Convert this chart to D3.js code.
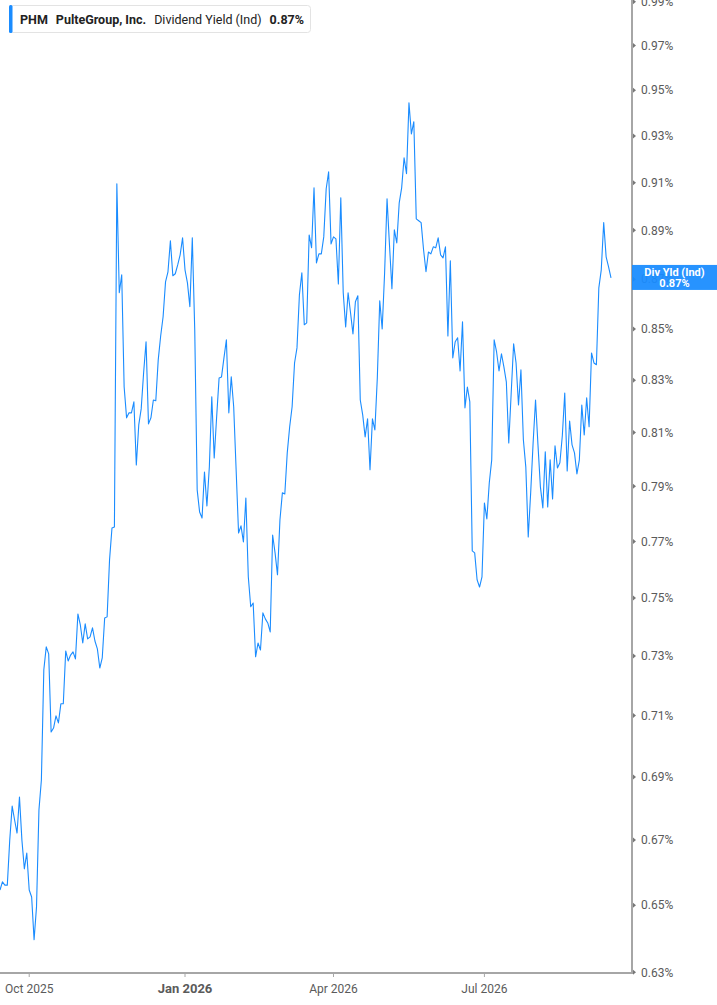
<!DOCTYPE html>
<html>
<head>
<meta charset="utf-8">
<script src="https://cdn.jsdelivr.net/npm/d3@7"></script>
<style>
  body { margin: 0; background: #fff; }
  svg { display: block; font-family: Roboto, "Noto Sans", sans-serif; }
</style>
</head>
<body>
<div id="chart"></div>
<script>
// daily dividend yield (%), one per trading day, Sep 15 2025 .. Sep 15 2026
const yieldValues = [
  0.6546, 0.6571, 0.6561, 0.6561, 0.6700, 0.6807, 0.6763, 0.6722, 0.6836, 0.6700,
  0.6611, 0.6660, 0.6546, 0.6525, 0.6396, 0.6495, 0.6795, 0.6890, 0.7253, 0.7331,
  0.7307, 0.7046, 0.7059, 0.7099, 0.7076, 0.7139, 0.7139, 0.7317, 0.7283, 0.7303,
  0.7314, 0.7290, 0.7444, 0.7406, 0.7344, 0.7410, 0.7358, 0.7365, 0.7396, 0.7351,
  0.7324, 0.7259, 0.7293, 0.7430, 0.7434, 0.7634, 0.7748, 0.7752, 0.9095, 0.8645,
  0.8718, 0.8274, 0.8156, 0.8175, 0.8175, 0.8217, 0.7979, 0.8129, 0.8190, 0.8329,
  0.8450, 0.8133, 0.8156, 0.8224, 0.8221, 0.8379, 0.8473, 0.8549, 0.8689, 0.8730,
  0.8857, 0.8714, 0.8722, 0.8758, 0.8799, 0.8869, 0.8738, 0.8685, 0.8589, 0.8869,
  0.8497, 0.7887, 0.7806, 0.7784, 0.7953, 0.7828, 0.7972, 0.8236, 0.8005, 0.8160,
  0.8309, 0.8313, 0.8387, 0.8458, 0.8175, 0.8313, 0.8198, 0.7961, 0.7730, 0.7756,
  0.7698, 0.7857, 0.7574, 0.7469, 0.7482, 0.7297, 0.7344, 0.7320, 0.7448, 0.7427,
  0.7413, 0.7382, 0.7723, 0.7659, 0.7581, 0.7777, 0.7876, 0.7872, 0.8024, 0.8122,
  0.8198, 0.8367, 0.8426, 0.8637, 0.8726, 0.8517, 0.8525, 0.8881, 0.8828, 0.9078,
  0.8766, 0.8803, 0.8803, 0.8873, 0.9074, 0.9146, 0.8844, 0.8873, 0.8865, 0.8681,
  0.9036, 0.8645, 0.8509, 0.8645, 0.8565, 0.8481, 0.8609, 0.8633, 0.8224, 0.8167,
  0.8084, 0.8152, 0.7961, 0.8152, 0.8110, 0.8309, 0.8613, 0.8501, 0.8726, 0.9032,
  0.8840, 0.8661, 0.8902, 0.8848, 0.9015, 0.9078, 0.9206, 0.9138, 0.9445, 0.9309,
  0.9362, 0.8948, 0.8940, 0.8932, 0.8820, 0.8730, 0.8811, 0.8803, 0.8832, 0.8828,
  0.8869, 0.8799, 0.8787, 0.8832, 0.8473, 0.8775, 0.8387, 0.8450, 0.8466, 0.8336,
  0.8529, 0.8194, 0.8274, 0.8217, 0.7666, 0.7659, 0.7563, 0.7538, 0.7574, 0.7839,
  0.7781, 0.7913, 0.7998, 0.8458, 0.8410, 0.8336, 0.8403, 0.8352, 0.8294, 0.8061,
  0.8251, 0.8442, 0.8367, 0.8205, 0.8340, 0.8073, 0.7972, 0.7716, 0.7876, 0.8061,
  0.8224, 0.8054, 0.7898, 0.7821, 0.8028, 0.7824, 0.7998, 0.7854, 0.8050, 0.7968,
  0.7987, 0.8088, 0.8251, 0.7957, 0.8144, 0.8054, 0.8024, 0.7946, 0.7998, 0.8205,
  0.8091, 0.8232, 0.8122, 0.8406, 0.8367, 0.8360, 0.8665, 0.8738, 0.8932, 0.8791,
  0.8750, 0.8705
];

// NYSE closures in the range
const holidays = ["2025-11-27", "2025-12-25", "2026-01-01", "2026-01-19", "2026-02-16",
  "2026-04-03", "2026-05-25", "2026-06-19", "2026-07-03", "2026-09-07"];

const yTicks = [0.63, 0.65, 0.67, 0.69, 0.71, 0.73, 0.75, 0.77, 0.79, 0.81,
  0.83, 0.85, 0.87, 0.89, 0.91, 0.93, 0.95, 0.97, 0.99];
const xTickMonths = ["2025-10", "2026-01", "2026-04", "2026-07"];
const xTickLabels = ["Oct 2025", "Jan 2026", "Apr 2026", "Jul 2026"];

const ticker = "PHM";
const company = "PulteGroup, Inc.";
const metric = "Dividend Yield (Ind)";
const shortMetric = "Div Yld (Ind)";

const width = 717, height = 1005;
const axisX = 632, axisY = 973;
const blue = "#1a8cff";
const parse = d3.utcParse("%Y-%m-%d");
const fmtDay = d3.utcFormat("%Y-%m-%d");
const fmtMonth = d3.utcFormat("%Y-%m");

// trading days
const closed = new Set(holidays);
const days = d3.utcDay.range(parse("2025-09-15"), parse("2026-09-16"))
  .filter(d => d.getUTCDay() > 0 && d.getUTCDay() < 6 && !closed.has(fmtDay(d)));
const data = yieldValues.map((v, i) => ({ i, date: days[i], value: v }));

// session-based x axis: one slot per trading day
const x = d3.scaleLinear()
  .domain([0, data.length - 1])
  .range([0, 611]);
const y = d3.scaleLog()
  .domain([0.63, 0.99])
  .range([972.3, 1.7]);

// first session of each labelled month
const xTicks = xTickMonths.map((m, k) => ({
  i: data.findIndex(d => fmtMonth(d.date) === m),
  label: xTickLabels[k],
  bold: m.endsWith("-01")
}));

const svg = d3.select("#chart").append("svg")
  .attr("width", width).attr("height", height);

svg.append("clipPath").attr("id", "plot")
  .append("rect").attr("x", 0).attr("y", 0).attr("width", axisX).attr("height", axisY);

const line = d3.line().x(d => x(d.i)).y(d => y(d.value));
svg.append("path")
  .datum(data)
  .attr("clip-path", "url(#plot)")
  .attr("fill", "none")
  .attr("stroke", blue)
  .attr("stroke-width", 1.1)
  .attr("stroke-linejoin", "round")
  .attr("d", line);

// y axis on the right
const yAxis = svg.append("g").attr("transform", `translate(${axisX},0)`);
yAxis.append("line").attr("y1", 0).attr("y2", axisY)
  .attr("stroke", "#a6a6a6").attr("stroke-width", 2);
const yt = yAxis.selectAll("g.tick").data(yTicks).join("g")
  .attr("class", "tick")
  .attr("transform", d => `translate(0,${y(d)})`);
yt.append("path").attr("d", "M1,-2.5L4,0L1,2.5Z").attr("fill", "#777");
yt.append("text")
  .attr("x", 9).attr("dy", "0.35em")
  .attr("font-size", 12).attr("fill", "#5a5a5a")
  .text(d => d3.format(".2f")(d) + "%");

// x axis
const xAxis = svg.append("g");
xAxis.append("line").attr("x1", 0).attr("x2", axisX + 1)
  .attr("y1", axisY).attr("y2", axisY)
  .attr("stroke", "#a6a6a6").attr("stroke-width", 2);
const xt = xAxis.selectAll("g.tick").data(xTicks).join("g")
  .attr("class", "tick")
  .attr("transform", d => `translate(${x(d.i)},${axisY})`);
xt.append("line").attr("y1", 0).attr("y2", 4).attr("stroke", "#a6a6a6");
xt.append("text")
  .attr("y", 19.5).attr("text-anchor", "middle")
  .attr("fill", "#5a5a5a")
  .attr("font-weight", d => d.bold ? 700 : 400)
  .attr("font-size", d => d.bold ? 13 : 12)
  .text(d => d.label);

// last value tag
const last = data[data.length - 1];
const tag = svg.append("g").attr("transform", `translate(${axisX},${y(last.value)})`);
tag.append("rect").attr("x", 0).attr("y", -13).attr("width", width - axisX).attr("height", 25)
  .attr("fill", blue).attr("fill-opacity", 0.94);
tag.append("text").attr("x", (width - axisX) / 2).attr("y", -2)
  .attr("text-anchor", "middle").attr("fill", "#fff")
  .attr("font-size", 11).attr("font-weight", 700).text(shortMetric);
tag.append("text").attr("x", (width - axisX) / 2).attr("y", 9)
  .attr("text-anchor", "middle").attr("fill", "#fff")
  .attr("font-size", 11).attr("font-weight", 700).text(d3.format(".2f")(last.value) + "%");

// legend
const legend = svg.append("g").attr("transform", "translate(9,5)");
legend.append("rect").attr("x", 0.5).attr("y", 0.5).attr("width", 301).attr("height", 27)
  .attr("rx", 3).attr("fill", "#fff").attr("stroke", "#e3e3e3");
legend.append("rect").attr("x", 0).attr("y", 0).attr("width", 3.5).attr("height", 28)
  .attr("rx", 1.5).attr("fill", blue);
const lt = legend.append("text").attr("x", 11).attr("y", 19)
  .attr("font-size", 12.5).attr("fill", "#222");
lt.append("tspan").attr("font-weight", 700).text(ticker);
lt.append("tspan").attr("dx", 8).attr("font-weight", 700).text(company);
lt.append("tspan").attr("dx", 8).text(metric);
lt.append("tspan").attr("dx", 8).attr("font-weight", 700).text(d3.format(".2f")(last.value) + "%");
</script>
</body>
</html>
